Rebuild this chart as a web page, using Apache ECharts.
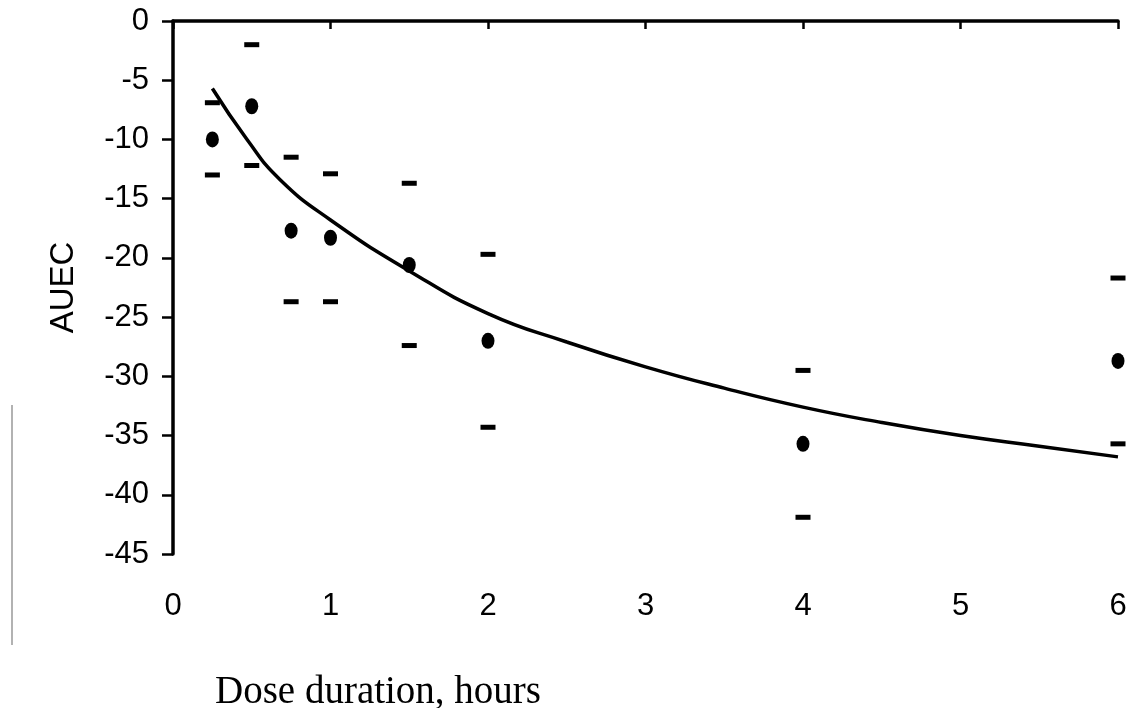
<!DOCTYPE html>
<html>
<head>
    <meta charset="utf-8">
    <title>AUEC vs dose duration</title>
    <script src="https://cdn.jsdelivr.net/npm/echarts@6/dist/echarts.min.js"></script>
    <style>
        html, body { margin: 0; padding: 0; background: #fff; }
        #main { width: 1134px; height: 708px; }
    </style>
</head>
<body>
<div id="main"></div>
<script type="text/javascript">
    // observed values (dose duration in hours)
    var doseHours = [0.25, 0.5, 0.75, 1, 1.5, 2, 4, 6];
    var meanAuec  = [-10.0, -7.2, -17.7, -18.3, -20.6, -27.0, -35.7, -28.7];
    var upperAuec = [-6.9, -2.0, -11.5, -12.9, -13.7, -19.7, -29.5, -21.7];
    var lowerAuec = [-13.0, -12.2, -23.7, -23.7, -27.4, -34.3, -41.9, -35.7];

    // fitted curve
    var fitHours = [0.25, 0.47, 0.68, 1.0, 1.5, 2.0, 2.5, 3.0, 3.5, 4.0, 4.5, 5.0, 5.5, 6.0];
    var fitAuec  = [-5.7, -10.0, -13.4, -16.8, -21.1, -24.7, -27.1, -29.2, -31.0, -32.6, -33.9, -35.0, -35.9, -36.8];

    var xTicks = [0, 1, 2, 3, 4, 5, 6];

    function pairs(xs, ys) {
        var out = [];
        for (var i = 0; i < xs.length; i++) {
            out.push([xs[i], ys[i]]);
        }
        return out;
    }

    var labelFont = 'Liberation Sans, Arial, sans-serif';

    var chart = echarts.init(document.getElementById('main'));
    var option = {
        animation: false,
        backgroundColor: '#fff',
        grid: { left: 173, right: 16, top: 21, bottom: 154 },
        xAxis: [{
            type: 'value',
            position: 'bottom',
            min: xTicks[0],
            max: xTicks[xTicks.length - 1],
            interval: 1,
            axisLine: { show: false },
            axisTick: { show: false },
            splitLine: { show: false },
            axisLabel: { fontSize: 31, color: '#000', fontFamily: labelFont, margin: 37 }
        }, {
            type: 'value',
            position: 'top',
            min: xTicks[0],
            max: xTicks[xTicks.length - 1],
            interval: 1,
            axisLine: { show: true, onZero: false, lineStyle: { color: '#000', width: 3.5 } },
            axisTick: { show: true, inside: true, length: 8, lineStyle: { color: '#000', width: 2.5 } },
            splitLine: { show: false },
            axisLabel: { show: false }
        }],
        yAxis: {
            type: 'value',
            min: -45,
            max: 0,
            interval: 5,
            name: 'AUEC',
            nameLocation: 'middle',
            nameRotate: 90,
            nameGap: 93,
            nameTextStyle: { fontSize: 33, color: '#000', fontFamily: labelFont },
            axisLine: { show: true, onZero: false, lineStyle: { color: '#000', width: 3.5 } },
            axisTick: { show: true, length: 11, lineStyle: { color: '#000', width: 2.5 } },
            splitLine: { show: false },
            axisLabel: { fontSize: 31, color: '#000', fontFamily: labelFont, margin: 24 }
        },
        graphic: [{
            type: 'text',
            left: 215,
            top: 673,
            style: {
                text: 'Dose duration, hours',
                fontSize: 39,
                fontFamily: 'Liberation Serif, Times New Roman, serif',
                fill: '#000'
            }
        }, {
            type: 'line',
            shape: { x1: 12, y1: 405, x2: 12, y2: 645 },
            style: { stroke: '#999', lineWidth: 1.5 }
        }],
        series: [{
            name: 'fit',
            type: 'line',
            xAxisIndex: 0,
            smooth: 0.5,
            symbol: 'none',
            lineStyle: { color: '#000', width: 3.5 },
            data: pairs(fitHours, fitAuec),
            z: 3
        }, {
            name: 'mean',
            type: 'scatter',
            xAxisIndex: 0,
            symbol: 'circle',
            symbolSize: [13, 16],
            itemStyle: { color: '#000', opacity: 1 },
            data: pairs(doseHours, meanAuec),
            z: 4
        }, {
            name: 'upper',
            type: 'scatter',
            xAxisIndex: 0,
            symbol: 'rect',
            symbolSize: [15, 5],
            itemStyle: { color: '#000', opacity: 1 },
            data: pairs(doseHours, upperAuec),
            z: 4
        }, {
            name: 'lower',
            type: 'scatter',
            xAxisIndex: 0,
            symbol: 'rect',
            symbolSize: [15, 5],
            itemStyle: { color: '#000', opacity: 1 },
            data: pairs(doseHours, lowerAuec),
            z: 4
        }]
    };
    chart.setOption(option);
</script>
</body>
</html>
